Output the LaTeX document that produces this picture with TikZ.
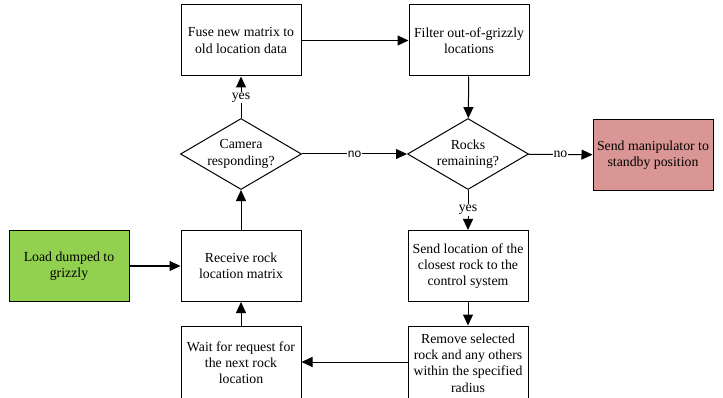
\documentclass[tikz,border=0pt]{standalone}
\usepackage{fontspec}
\setmainfont{Liberation Serif}
\newfontfamily\labelsans{Liberation Sans}
\usetikzlibrary{arrows.meta,shapes.geometric}

\definecolor{loadgreen}{RGB}{146,208,80}
\definecolor{standbyred}{RGB}{217,150,148}

\begin{document}
\begin{tikzpicture}[x=1pt,y=-1pt,
  every node/.style={font=\fontsize{13.8}{16.2}\selectfont},
  box/.style={draw, line width=1pt, minimum width=120pt, minimum height=71pt,
    inner sep=0pt, align=center},
  decision/.style={diamond, draw, line width=1pt, aspect=1.7,
    minimum width=121pt, minimum height=71pt, inner sep=-18pt, align=center},
  flow/.style={line width=1pt, -{Triangle[length=11pt,width=10pt]}},
  lbl/.style={fill=white, inner sep=1pt},
  sanslbl/.style={lbl, font=\labelsans\fontsize{12}{14}\selectfont}
]
\useasboundingbox (0,0) rectangle (723,398);
\clip (0,0) rectangle (723,398);

% process boxes
\node[box] (fuse)    at (241,40.5) {Fuse new matrix to\\old location data};
\node[box] (filter)  at (469,40.5) {Filter out-of-grizzly\\locations};
\node[box, fill=standbyred] (standby) at (653,155) {Send manipulator to\\standby position};
\node[box, fill=loadgreen] (load) at (69,266) {Load dumped to\\grizzly};
\node[box] (receive) at (241,266) {Receive rock\\location matrix};
\node[box] (sendloc) at (468,266) {Send location of the\\closest rock to the\\control system};
\node[box, minimum height=74pt] (wait)   at (241,363) {Wait for request for\\the next rock\\location};
\node[box, minimum height=74pt] (remove) at (468,363) {Remove selected\\rock and any others\\within the specified\\radius};

% decisions
\node[decision] (camera) at (241,154) {Camera\\responding?};
\node[decision] (rocks)  at (468,154) {Rocks\\remaining?};

% connectors
\draw[flow] (load) -- (receive);
\draw[flow] (receive) -- (camera);
\draw[flow] (camera) -- node[lbl] {yes} (fuse);
\draw[flow] (fuse) -- (filter);
\draw[flow] (filter) -- (rocks);
\draw[flow] (camera) -- node[sanslbl] {no} (rocks);
\draw[flow] (rocks) -- node[lbl] {no} (standby);
\draw[flow] (rocks) -- node[lbl] {yes} (sendloc);
\draw[flow] (sendloc) -- (remove);
\draw[flow] (remove.west |- 0,362) -- (wait.east |- 0,362);
\draw[flow] (wait) -- (receive);
\end{tikzpicture}
\end{document}
